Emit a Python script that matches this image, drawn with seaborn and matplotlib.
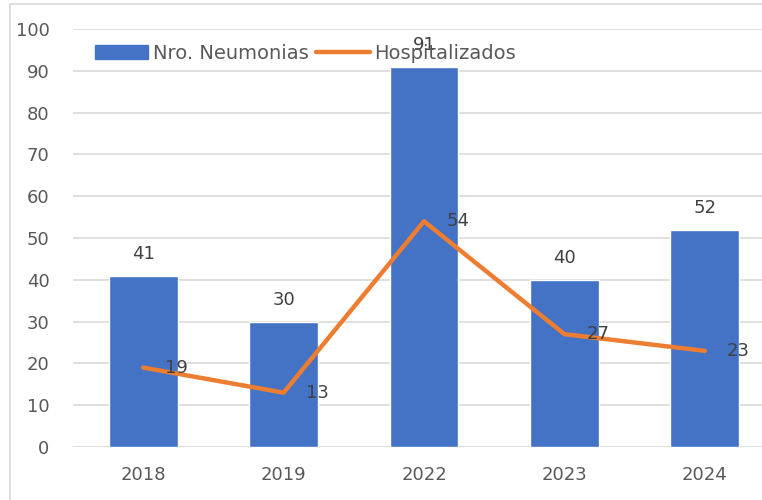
import matplotlib
matplotlib.use("Agg")
import matplotlib.pyplot as plt
import seaborn as sns
import numpy as np
from matplotlib.lines import Line2D

years = ["2018", "2019", "2022", "2023", "2024"]
neumonias = [41, 30, 91, 40, 52]
hospitalizados = [19, 13, 54, 27, 23]
series_names = ["Nro. Neumonias", "Hospitalizados"]
yticks = list(range(0, 101, 10))

BLUE = "#4472C4"
ORANGE = "#ED7D31"
TEXT = "#595959"
LABEL = "#404040"
GRID = "#D9D9D9"

sns.set_theme(style="white")
plt.rcParams["font.family"] = ["DejaVu Sans"]

fig = plt.figure(figsize=(7.62, 5.0), dpi=100)
ax = fig.add_axes([73 / 762, 53 / 500, 702 / 762, 418 / 500])

sns.barplot(x=years, y=neumonias, color=BLUE, width=0.49, saturation=1, ax=ax,
            label=series_names[0])
sns.pointplot(x=years, y=hospitalizados, color=ORANGE, markers="", linewidth=3.2,
              ax=ax, label=series_names[1])

ax.set_ylim(0, 100)
ax.set_xlim(-0.5, len(years) - 0.5)
ax.set_yticks(yticks)
ax.yaxis.grid(True, color=GRID, linewidth=1.2)
ax.set_axisbelow(True)
for s in ax.spines.values():
    s.set_visible(False)
ax.tick_params(axis="both", length=0, labelsize=13, labelcolor=TEXT)
ax.tick_params(axis="y", pad=17)
ax.tick_params(axis="x", pad=14)
ax.set_xlabel("")
ax.set_ylabel("")

ax.bar_label(ax.containers[0], labels=[str(v) for v in neumonias], padding=9,
             fontsize=13, color=LABEL)
for i, v in enumerate(hospitalizados):
    ax.annotate(str(v), (i, v), xytext=(16, 0), textcoords="offset points",
                ha="left", va="center", fontsize=13, color=LABEL)

handles = [plt.Rectangle((0, 0), 1, 1, color=BLUE),
           Line2D([0], [0], color=ORANGE, linewidth=3.2)]
leg = ax.legend(handles, series_names, loc="upper left", ncol=2, frameon=False,
                fontsize=14, handlelength=2.75, handletextpad=0.26, columnspacing=0.36,
                borderaxespad=0)
for t in leg.get_texts():
    t.set_color(TEXT)
leg.set_bbox_to_anchor((87 / 762, 1 - 36 / 500), transform=fig.transFigure)

# chart area border (left and top visible in the crop)
fig.add_artist(Line2D([10 / 762, 10 / 762], [0, 1 - 4 / 500], color=GRID, linewidth=1.2,
                      transform=fig.transFigure))
fig.add_artist(Line2D([10 / 762, 1], [1 - 4 / 500, 1 - 4 / 500], color=GRID, linewidth=1.2,
                      transform=fig.transFigure))

fig.savefig("out.png", dpi=100)
